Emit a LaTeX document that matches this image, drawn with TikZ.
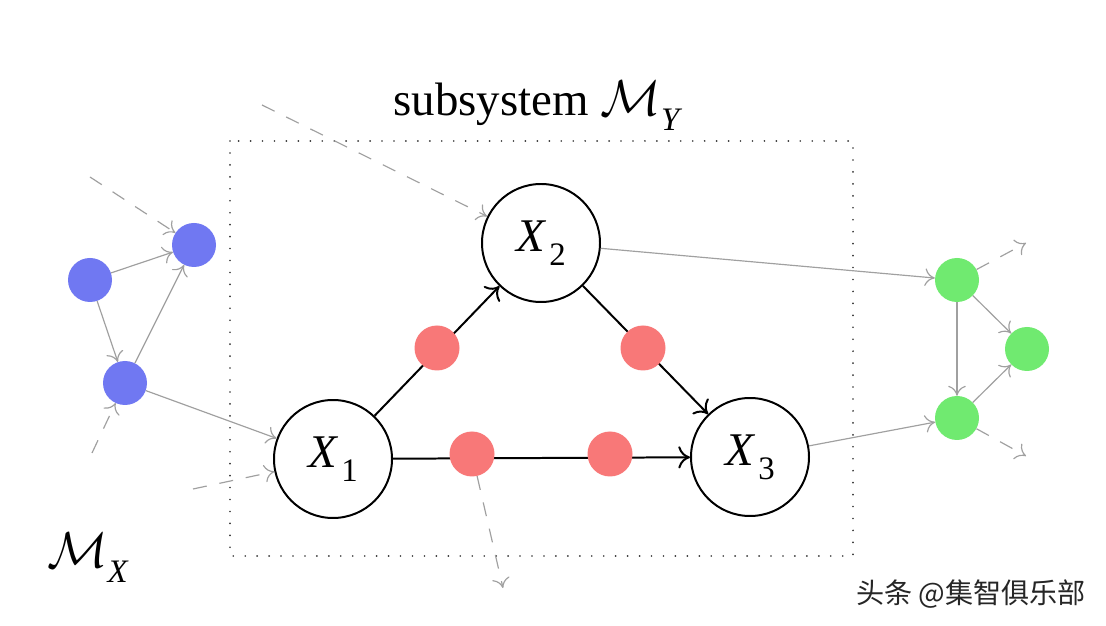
\RequirePackage{fix-cm}
\documentclass[tikz,border=0pt]{standalone}
\usepackage{fontspec}
\setmainfont{Liberation Serif}
\newfontfamily\cjk{Noto Sans CJK SC}
\usetikzlibrary{arrows.meta}
\definecolor{dotblue}{RGB}{112,120,242}
\definecolor{dotgreen}{RGB}{112,234,112}
\definecolor{dotred}{RGB}{248,120,120}
\definecolor{arrgray}{RGB}{160,160,160}
\newcommand\mysub[1]{\raisebox{-0.3em}{\fontsize{28}{30}\selectfont #1}}
\newcommand\varlab[1]{\textit{X}\kern0.06em\mysub{#1}}
\newcommand\calm{{\fontsize{43}{48}\selectfont$\mathcal{M}$}}
\tikzset{
  bigfont/.style={font=\fontsize{40}{48}\selectfont},
  var/.style={circle, draw=black, line width=1.7pt, minimum size=118*0.03cm, inner sep=0pt, fill=white, bigfont},
  bdot/.style={circle, fill=dotblue, minimum size=44*0.03cm, inner sep=0pt},
  gdot/.style={circle, fill=dotgreen, minimum size=44*0.03cm, inner sep=0pt},
  rdot/.style={circle, fill=dotred, minimum size=45*0.03cm, inner sep=0pt},
  blk/.style={line width=1.7pt, -{Computer Modern Rightarrow[length=10pt,width=19pt,line width=1.7pt]}},
  gry/.style={draw=arrgray, line width=1pt, -{Computer Modern Rightarrow[length=8.5pt,width=15pt,line width=1pt]}},
  gdash/.style={gry, dash pattern=on 12pt off 11pt},
  subbox/.style={draw=black!80, line width=1.6pt, dash pattern=on 0pt off 10.2pt, line cap=round},
}
\begin{document}
\begin{tikzpicture}[x=0.03cm, y=-0.03cm]
\useasboundingbox (0,0) rectangle (1106,626);
\fill[white] (0,0) rectangle (1106,626);
% subsystem box
\draw[subbox] (230,141) rectangle (853,556);
\node[bigfont, anchor=base] (title) at (538,116) {subsystem \calm\mysub{\textit{Y}}};
\node[bigfont, anchor=base] (mx) at (88,568) {\calm\mysub{\textit{X}}};
% main variables
\node[var] (X1) at (333,459) {\varlab{1}};
\node[var] (X2) at (541,243) {\varlab{2}};
\node[var] (X3) at (750,457) {\varlab{3}};
% black causal arrows
\draw[blk] (X1) -- (X2);
\draw[blk] (X2) -- (X3);
\draw[blk] (X1) -- (X3);
% red mediator dots
\node[rdot] (r1) at (437,348) {};
\node[rdot] (r2) at (643,348) {};
\node[rdot] (r3) at (472,454) {};
\node[rdot] (r4) at (610,454) {};
% blue nodes
\node[bdot] (b1) at (90,280) {};
\node[bdot] (b2) at (194,245) {};
\node[bdot] (b3) at (125,383) {};
% green nodes
\node[gdot] (g1) at (957,280) {};
\node[gdot] (g2) at (1027,349) {};
\node[gdot] (g3) at (957,418) {};
% free ends
\coordinate (a1) at (90,177);
\coordinate (a2) at (92,453);
\coordinate (a3) at (193,489);
\coordinate (a4) at (262,105);
\coordinate (c1) at (1026,243);
\coordinate (c2) at (1026,456);
\coordinate (c3) at (503,588);
% gray arrows
\draw[gry] (b1) -- (b2);
\draw[gry] (b1) -- (b3);
\draw[gry] (b3) -- (b2);
\draw[gry] (b3) -- (X1);
\draw[gry] (X2) -- (g1);
\draw[gry] (X3) -- (g3);
\draw[gry] (g1) -- (g3);
\draw[gry] (g1) -- (g2);
\draw[gry] (g3) -- (g2);
% dashed gray arrows
\draw[gdash] (a1) -- (b2);
\draw[gdash] (a2) -- (b3);
\draw[gdash] (a3) -- (X1);
\draw[gdash] (a4) -- (X2);
\draw[gdash] (g1) -- (c1);
\draw[gdash] (g3) -- (c2);
\draw[gdash] (r3) -- (c3);
% watermark
\node[font=\cjk\fontsize{24}{28}\selectfont, text=black!85] (wm) at (971,594) {头条 @集智俱乐部};
\end{tikzpicture}
\end{document}
